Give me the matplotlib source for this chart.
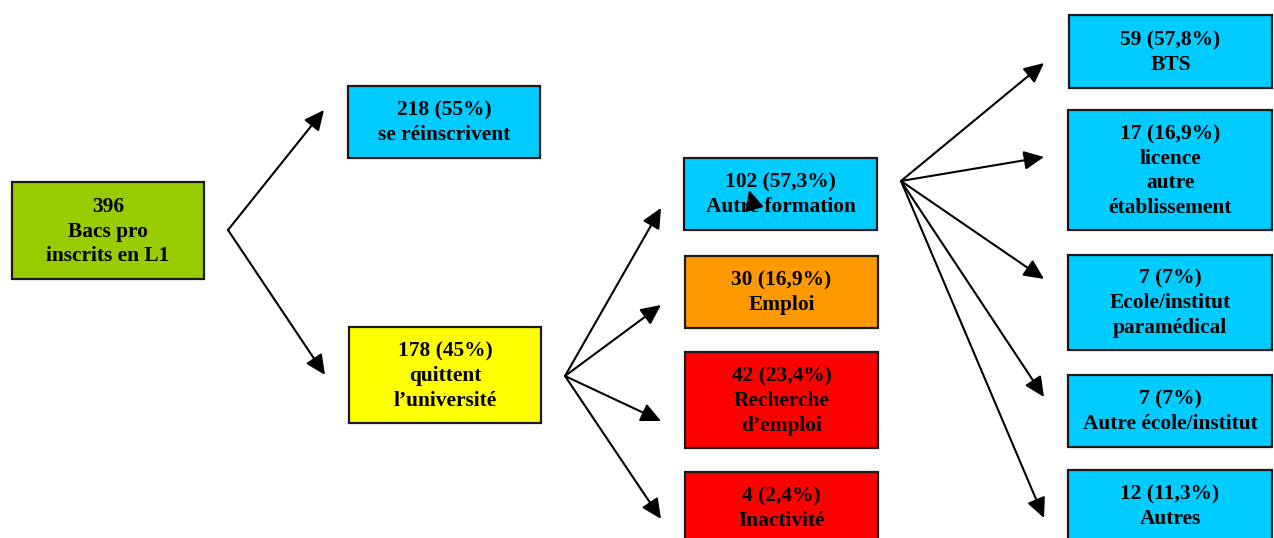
#!/usr/bin/env python

import matplotlib
matplotlib.use('Agg')
import matplotlib.pyplot as plt
from matplotlib.patches import Rectangle

# Flow of bac pro students enrolled in L1
counts = [396, 218, 178, 102, 30, 42, 4, 59, 17, 7, 7, 12]
shares = ['', '55%', '45%', '57,3%', '16,9%', '23,4%', '2,4%',
          '57,8%', '16,9%', '7%', '7%', '11,3%']
labels = ['Bacs pro\ninscrits en L1', 'se réinscrivent', 'quittent\nl’université',
          'Autre formation', 'Emploi', 'Recherche\nd’emploi', 'Inactivité',
          'BTS', 'licence\nautre\nétablissement', 'Ecole/institut\nparamédical',
          'Autre école/institut', 'Autres']
# parent index for each node (arrows)
parents = [None, 0, 0, 2, 2, 2, 2, 3, 3, 3, 3, 3]

# layout in pixels (x0, y0, x1, y1), image coords
boxes = [(12, 182, 204, 279), (348, 86, 540, 158), (349, 327, 541, 423),
         (684, 158, 877, 230), (685, 256, 878, 328), (685, 352, 878, 448),
         (685, 472, 878, 544),
         (1069, 15, 1272, 88), (1068, 110, 1272, 230), (1068, 255, 1272, 350),
         (1068, 375, 1272, 447), (1068, 470, 1272, 542)]
colors = ['#99CC00', '#00CCFF', '#FFFF00', '#00CCFF', '#FF9900', '#FF0000',
          '#FF0000', '#00CCFF', '#00CCFF', '#00CCFF', '#00CCFF', '#00CCFF']
forks = {0: (228, 230), 2: (565, 376), 3: (901, 181)}
tips = [None, (324, 110), (325, 375), (661, 208), (661, 305), (661, 421),
        (661, 519), (1044, 63), (1044, 157), (1044, 279), (1044, 397), (1044, 518)]

W, H = 1274, 538
fig = plt.figure(figsize=(W / 100, H / 100), dpi=100)
ax = fig.add_axes([0, 0, 1, 1])
ax.set_xlim(0, W)
ax.set_ylim(H, 0)
ax.axis('off')

font = dict(family=['Liberation Serif', 'DejaVu Serif'], weight='bold', size=15.4)

for i, (x0, y0, x1, y1) in enumerate(boxes):
    ax.add_patch(Rectangle((x0, y0), x1 - x0, y1 - y0, facecolor=colors[i],
                           edgecolor='#1a1a1a', linewidth=1.6, zorder=2))
    head = f"{counts[i]} ({shares[i]})" if shares[i] else str(counts[i])
    ax.text((x0 + x1) / 2, (y0 + y1) / 2 + 1, head + '\n' + labels[i],
            ha='center', va='center', linespacing=1.31, zorder=3, **font)

arrow = dict(arrowstyle='-|>,head_length=0.55,head_width=0.26', color='black',
             lw=1.5, mutation_scale=22, shrinkA=0, shrinkB=0)
for i, p in enumerate(parents):
    if p is None:
        continue
    ax.annotate('', xy=tips[i], xytext=forks[p], arrowprops=arrow, zorder=4)

# stray arrowhead inside the "Autre formation" box
ax.annotate('', xy=(749, 190), xytext=(753, 204), arrowprops=arrow, zorder=4)

fig.savefig('out.png', dpi=100)
